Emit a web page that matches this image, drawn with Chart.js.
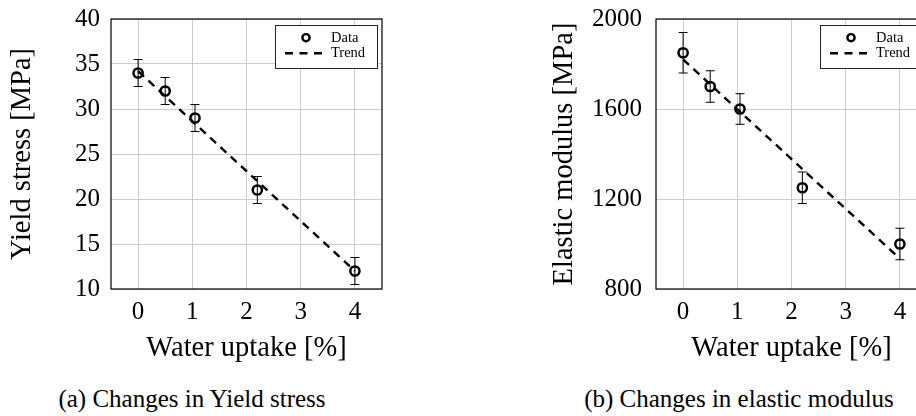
<!DOCTYPE html>
<html>
<head>
<meta charset="utf-8">
<script src="https://cdn.jsdelivr.net/npm/chart.js@4.4.1/dist/chart.umd.min.js"></script>
<style>
html,body{margin:0;padding:0;background:#fff;overflow:hidden;width:916px;height:416px;}
#wrap{position:relative;width:916px;height:416px;overflow:hidden;background:#fff;}
canvas{position:absolute;top:0;}
#c1{left:0;}
#c2{left:540px;}
.cap{position:absolute;top:386px;width:400px;text-align:center;font-family:"Liberation Serif","Times New Roman",serif;font-size:25px;line-height:25px;color:#000;white-space:nowrap;}
#capA{left:-8px;}
#capB{left:539px;}
</style>
</head>
<body>
<div id="wrap">
  <canvas id="c1" width="458" height="380"></canvas>
  <canvas id="c2" width="458" height="380"></canvas>
  <div class="cap" id="capA">(a) Changes in Yield stress</div>
  <div class="cap" id="capB">(b) Changes in elastic modulus</div>
</div>
<script>
// ---- data ----
const waterUptake = [0, 0.5, 1.05, 2.2, 4];
const yieldStress = [34, 32, 29, 21, 12];
const yieldStressErr = [1.5, 1.5, 1.5, 1.5, 1.5];
const trendX = [0, 4];
const yieldTrend = [34.2, 12.0];
const elasticModulus = [1850, 1700, 1600, 1250, 1000];
const elasticModulusErr = [90, 70, 68, 70, 70];
const modulusTrend = [1820, 935];
const xTicks = [0, 1, 2, 3, 4];
const yieldTicks = [10, 15, 20, 25, 30, 35, 40];
const modulusTicks = [800, 1200, 1600, 2000];
const seriesLabels = ['Data', 'Trend'];
const xTitle = 'Water uptake [%]';
const yieldTitle = 'Yield stress [MPa]';
const modulusTitle = 'Elastic modulus [MPa]';

const FONT = "'Liberation Serif', 'Times New Roman', serif";
Chart.defaults.font.family = FONT;

const framePlugin = {
  id: 'frame',
  beforeDatasetsDraw(chart) {
    const {ctx, chartArea: a} = chart;
    ctx.save();
    ctx.strokeStyle = '#000';
    ctx.lineWidth = 1.2;
    ctx.strokeRect(a.left, a.top, a.right - a.left, a.bottom - a.top);
    ctx.restore();
  }
};

const errorBarPlugin = {
  id: 'errbars',
  beforeDatasetsDraw(chart) {
    const ds = chart.data.datasets[0];
    const xs = chart.scales.x, ys = chart.scales.y, ctx = chart.ctx;
    ctx.save();
    ctx.strokeStyle = '#000';
    ctx.lineWidth = 1;
    ds.data.forEach((p, i) => {
      const e = ds.errors[i];
      const px = xs.getPixelForValue(p.x);
      const y1 = ys.getPixelForValue(p.y + e);
      const y2 = ys.getPixelForValue(p.y - e);
      ctx.beginPath();
      ctx.moveTo(px, y1); ctx.lineTo(px, y2);
      ctx.moveTo(px - 4.5, y1); ctx.lineTo(px + 4.5, y1);
      ctx.moveTo(px - 4.5, y2); ctx.lineTo(px + 4.5, y2);
      ctx.stroke();
    });
    ctx.restore();
  }
};

const legendPlugin = {
  id: 'boxLegend',
  afterDraw(chart) {
    const {ctx, chartArea: a} = chart;
    const w = 102, h = 43;
    const left = a.right - 5 - w, top = a.top + 6;
    const d0 = chart.data.datasets[0], d1 = chart.data.datasets[1];
    ctx.save();
    ctx.fillStyle = '#fff';
    ctx.fillRect(left, top, w, h);
    ctx.strokeStyle = '#222';
    ctx.lineWidth = 1;
    ctx.strokeRect(left + 0.5, top + 0.5, w, h);
    ctx.strokeStyle = '#000';
    ctx.lineWidth = 2.4;
    ctx.beginPath();
    ctx.arc(left + 31, top + 12.7, 3.6, 0, Math.PI * 2);
    ctx.stroke();
    ctx.lineWidth = 2.4;
    ctx.setLineDash([8, 6.5]);
    ctx.beginPath();
    ctx.moveTo(left + 10, top + 28.3);
    ctx.lineTo(left + 47, top + 28.3);
    ctx.stroke();
    ctx.setLineDash([]);
    ctx.fillStyle = '#000';
    ctx.font = '14.5px ' + FONT;
    ctx.textBaseline = 'middle';
    ctx.textAlign = 'left';
    ctx.fillText(d0.label, left + 56, top + 12.7);
    ctx.fillText(d1.label, left + 56, top + 28.3);
    ctx.restore();
  }
};

function buildChart(id, cfg) {
  return new Chart(document.getElementById(id), {
    type: 'scatter',
    data: {
      datasets: [
        {
          label: seriesLabels[0],
          data: waterUptake.map((x, i) => ({x: x, y: cfg.values[i]})),
          errors: cfg.errors,
          showLine: false,
          pointStyle: 'circle',
          pointRadius: 4.6,
          pointBorderWidth: 2.5,
          borderColor: '#000',
          backgroundColor: 'rgba(0,0,0,0)'
        },
        {
          label: seriesLabels[1],
          data: trendX.map((x, i) => ({x: x, y: cfg.trend[i]})),
          showLine: true,
          borderColor: '#000',
          backgroundColor: '#000',
          borderWidth: 2.4,
          borderDash: [8, 6],
          pointRadius: 0,
          fill: false,
          tension: 0
        }
      ]
    },
    options: {
      responsive: false,
      animation: false,
      devicePixelRatio: 1,
      events: [],
      layout: {padding: {left: 0, top: 19, right: cfg.padRight, bottom: 0}},
      plugins: {legend: {display: false}, tooltip: {enabled: false}},
      scales: {
        x: {
          type: 'linear',
          min: -0.5,
          max: 4.5,
          afterBuildTicks: s => { s.ticks = xTicks.map(v => ({value: v})); },
          afterFit: s => { s.height = 91; s.paddingLeft = 0; s.paddingRight = 0; },
          grid: {color: '#cccccc', lineWidth: 1, drawTicks: false},
          border: {display: false},
          ticks: {padding: 8, color: '#000', font: {family: FONT, size: 25}, callback: v => String(v)},
          title: {display: true, text: xTitle, color: '#000', font: {family: FONT, size: 28.5}, padding: {top: 0, bottom: 14.5}}
        },
        y: {
          type: 'linear',
          min: cfg.ymin,
          max: cfg.ymax,
          afterBuildTicks: s => { s.ticks = cfg.ticks.map(v => ({value: v})); },
          afterFit: s => { s.width = cfg.yWidth; s.paddingTop = 0; s.paddingBottom = 0; },
          grid: {color: '#cccccc', lineWidth: 1, drawTicks: false},
          border: {display: false},
          ticks: {padding: cfg.tickPad, color: '#000', font: {family: FONT, size: 25}, callback: v => String(v)},
          title: {display: true, text: cfg.title, color: '#000', font: {family: FONT, size: 28.5}, padding: {top: cfg.titlePad, bottom: 0}}
        }
      }
    },
    plugins: [framePlugin, errorBarPlugin, legendPlugin]
  });
}

buildChart('c1', {
  values: yieldStress, errors: yieldStressErr, trend: yieldTrend,
  ymin: 10, ymax: 40, ticks: yieldTicks, title: yieldTitle,
  yWidth: 111, padRight: 76, tickPad: 11, titlePad: 5
});
buildChart('c2', {
  values: elasticModulus, errors: elasticModulusErr, trend: modulusTrend,
  ymin: 800, ymax: 2000, ticks: modulusTicks, title: modulusTitle,
  yWidth: 116, padRight: 71, tickPad: 14, titlePad: 7
});
</script>
</body>
</html>
